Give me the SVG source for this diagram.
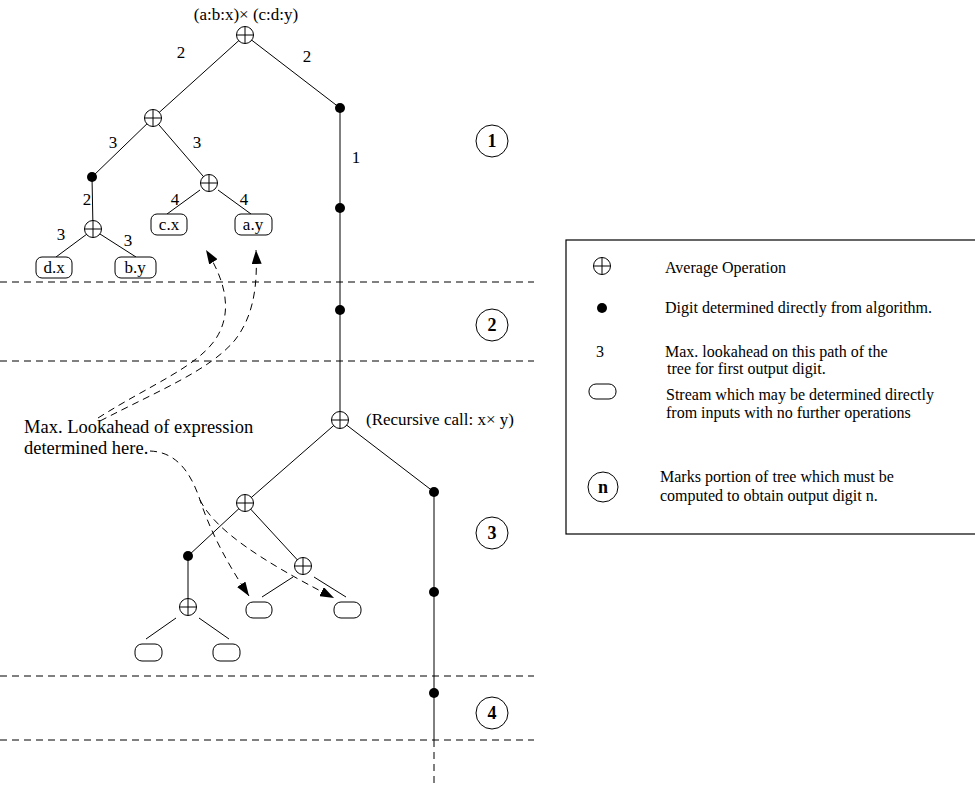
<svg xmlns="http://www.w3.org/2000/svg" width="975" height="786" viewBox="0 0 975 786">
<defs>
<style>
text{font-family:"Liberation Serif","Times New Roman",serif;font-size:17px;fill:#000}
.e{stroke:#000;stroke-width:1;fill:none}
.d{stroke:#000;stroke-width:1;fill:none;stroke-dasharray:7 5}
.dot{fill:#000}
.box{fill:#fff;stroke:#000;stroke-width:1}
.cn circle{fill:#fff;stroke:#000;stroke-width:1}
.cn text{font-weight:bold;font-size:18px;text-anchor:middle}
.lbl{text-anchor:middle}
.lg{font-size:16px}
.an{font-size:18.5px}
</style>
<symbol id="oplus" viewBox="-10 -10 20 20" overflow="visible">
<circle r="8.5" fill="#fff" stroke="#000"/>
<line x1="-8.5" y1="0" x2="8.5" y2="0" stroke="#000"/>
<line x1="0" y1="-8.5" x2="0" y2="8.5" stroke="#000"/>
</symbol>
<marker id="ah" viewBox="0 0 14 10" refX="14" refY="5" markerWidth="14" markerHeight="10" markerUnits="userSpaceOnUse" orient="auto">
<path d="M0,0 L14,5 L0,10 z" fill="#000"/>
</marker>
</defs>
<rect width="975" height="786" fill="#fff"/>

<g id="bands">
<line class="d" x1="0" y1="282" x2="534" y2="282"/>
<line class="d" x1="0" y1="361" x2="534" y2="361"/>
<line class="d" x1="0" y1="676" x2="534" y2="676"/>
<line class="d" x1="0" y1="740" x2="534" y2="740"/>
</g>

<g id="connectors">
<line class="e" x1="245" y1="35" x2="153" y2="118"/>
<line class="e" x1="245" y1="35" x2="340" y2="108"/>
<line class="e" x1="340" y1="108" x2="340" y2="420"/>
<line class="e" x1="153" y1="118" x2="92" y2="177"/>
<line class="e" x1="153" y1="118" x2="209" y2="183"/>
<line class="e" x1="92" y1="177" x2="93" y2="229"/>
<line class="e" x1="87" y1="234" x2="56" y2="257"/>
<line class="e" x1="100" y1="234" x2="136" y2="257"/>
<line class="e" x1="200" y1="190" x2="167" y2="214"/>
<line class="e" x1="218" y1="190" x2="251" y2="214"/>
<line class="e" x1="340" y1="420" x2="245" y2="503"/>
<line class="e" x1="340" y1="420" x2="434" y2="492"/>
<line class="e" x1="434" y1="492" x2="434" y2="740"/>
<line class="d" x1="434" y1="740" x2="434" y2="786"/>
<line class="e" x1="245" y1="503" x2="188" y2="556"/>
<line class="e" x1="245" y1="503" x2="303" y2="566"/>
<line class="e" x1="188" y1="556" x2="188" y2="607"/>
<line class="e" x1="176" y1="618" x2="146" y2="639"/>
<line class="e" x1="199" y1="618" x2="229" y2="639"/>
<line class="e" x1="293" y1="577" x2="262" y2="597"/>
<line class="e" x1="314" y1="577" x2="346" y2="597"/>
<path class="d" d="M98,418 C150,385 195,368 215,340 C232,315 228,285 206,250" marker-end="url(#ah)"/>
<path class="d" d="M100,421 C160,390 210,370 235,340 C252,318 258,290 256,250" marker-end="url(#ah)"/>
<path class="d" d="M150,451 C175,452 190,470 200,500 C210,530 225,560 249,596" marker-end="url(#ah)"/>
<path class="d" d="M200,500 C215,530 260,560 334,598" marker-end="url(#ah)"/>
</g>

<g id="n-top"><use href="#oplus" x="235" y="25" width="20" height="20"/></g>
<text x="246" y="20" class="lbl">(a:b:x)× (c:d:y)</text>
<g id="n-l1"><use href="#oplus" x="143" y="108" width="20" height="20"/></g>
<g id="n-r1"><circle class="dot" cx="340" cy="108" r="5"/></g>
<g id="n-r2"><circle class="dot" cx="340" cy="208" r="5"/></g>
<g id="n-r3"><circle class="dot" cx="340" cy="310" r="5"/></g>
<g id="n-ld"><circle class="dot" cx="92" cy="177" r="5"/></g>
<g id="n-lr"><use href="#oplus" x="199" y="173" width="20" height="20"/></g>
<g id="n-ll"><use href="#oplus" x="83" y="219" width="20" height="20"/></g>
<g id="n-dx"><rect class="box" x="36" y="257" width="36" height="21" rx="6"/><text x="54" y="273" class="lbl">d.x</text></g>
<g id="n-by"><rect class="box" x="115" y="257" width="41" height="21" rx="6"/><text x="135" y="273" class="lbl">b.y</text></g>
<g id="n-cx"><rect class="box" x="151" y="214" width="36" height="21" rx="6"/><text x="169" y="230" class="lbl">c.x</text></g>
<g id="n-ay"><rect class="box" x="235" y="214" width="37" height="21" rx="6"/><text x="253" y="230" class="lbl">a.y</text></g>

<g id="edge-labels">
<text x="181" y="58" class="lbl">2</text>
<text x="307" y="62" class="lbl">2</text>
<text x="113" y="148" class="lbl">3</text>
<text x="197" y="148" class="lbl">3</text>
<text x="356" y="163" class="lbl">1</text>
<text x="87" y="205" class="lbl">2</text>
<text x="175" y="205" class="lbl">4</text>
<text x="244" y="205" class="lbl">4</text>
<text x="61" y="240" class="lbl">3</text>
<text x="128" y="246" class="lbl">3</text>
</g>

<g id="n-rec"><use href="#oplus" x="330" y="410" width="20" height="20"/></g>
<text x="366" y="425">(Recursive call:  x× y)</text>
<g id="n-s1"><circle class="dot" cx="434" cy="492" r="5"/></g>
<g id="n-s2"><circle class="dot" cx="434" cy="592" r="5"/></g>
<g id="n-s3"><circle class="dot" cx="434" cy="693" r="5"/></g>
<g id="n-a"><use href="#oplus" x="235" y="493" width="20" height="20"/></g>
<g id="n-b"><circle class="dot" cx="188" cy="556" r="5"/></g>
<g id="n-c"><use href="#oplus" x="293" y="556" width="20" height="20"/></g>
<g id="n-e"><use href="#oplus" x="178" y="597" width="20" height="20"/></g>
<g id="n-b1"><rect class="box" x="246" y="602" width="26" height="16" rx="7"/></g>
<g id="n-b2"><rect class="box" x="334" y="602" width="27" height="16" rx="7"/></g>
<g id="n-b3"><rect class="box" x="135" y="644" width="27" height="17" rx="7"/></g>
<g id="n-b4"><rect class="box" x="213" y="644" width="27" height="17" rx="7"/></g>

<text x="24" y="433" class="an">Max. Lookahead of expression</text>
<text x="24" y="454" class="an">determined here.</text>

<g id="c1" class="cn"><circle cx="492" cy="141" r="16"/><text x="492" y="147">1</text></g>
<g id="c2" class="cn"><circle cx="492" cy="325" r="16"/><text x="492" y="331">2</text></g>
<g id="c3" class="cn"><circle cx="492" cy="533" r="16"/><text x="492" y="539">3</text></g>
<g id="c4" class="cn"><circle cx="492" cy="713" r="16"/><text x="492" y="719">4</text></g>

<g id="legend">
<rect x="566" y="240" width="420" height="294" fill="none" stroke="#000" stroke-width="1.2"/>
<use href="#oplus" x="592" y="256" width="20" height="20"/>
<text x="665" y="273" class="lg">Average Operation</text>
<circle class="dot" cx="602" cy="308" r="5"/>
<text x="665" y="313" class="lg">Digit determined directly from algorithm.</text>
<text x="596" y="357" class="lg">3</text>
<text x="665" y="357" class="lg">Max. lookahead on this path of the</text>
<text x="667" y="374" class="lg">tree for first output digit.</text>
<rect class="box" x="589" y="384" width="27" height="15" rx="7"/>
<text x="666" y="400" class="lg">Stream which may be determined directly</text>
<text x="666" y="418" class="lg">from inputs with no further operations</text>
<g class="cn"><circle cx="603" cy="487" r="15"/><text x="603" y="493">n</text></g>
<text x="660" y="482" class="lg">Marks portion of tree which must be</text>
<text x="660" y="501" class="lg">computed to obtain output digit n.</text>
</g>
</svg>
